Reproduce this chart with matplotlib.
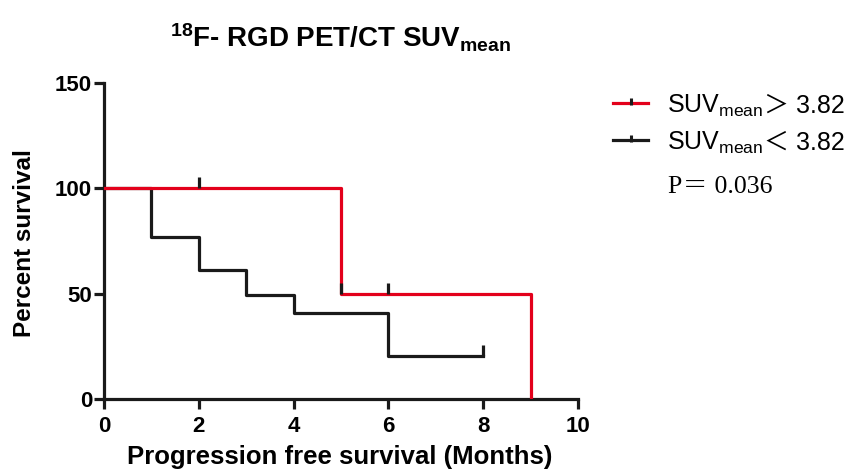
import matplotlib
matplotlib.use("Agg")
import matplotlib.pyplot as plt
from matplotlib.path import Path
from matplotlib.lines import Line2D

plt.rcParams['font.family'] = ['Liberation Sans', 'Noto Sans CJK SC', 'DejaVu Sans']
plt.rcParams['mathtext.fontset'] = 'custom'
plt.rcParams['mathtext.rm'] = 'Liberation Sans'
plt.rcParams['mathtext.it'] = 'Liberation Sans'
plt.rcParams['mathtext.bf'] = 'Liberation Sans:bold'
plt.rcParams['mathtext.default'] = 'regular'

# Data
high_times = [0, 5, 9]
high_surv = [100, 50, 0]
high_cens_t = [2, 5, 6]
high_cens_s = [100, 50, 50]

low_times = [0, 1, 2, 3, 4, 6, 8]
low_surv = [100, 77, 61, 49.5, 41, 20.5, 20.5]
low_cens_t = [8]
low_cens_s = [20.5]

xticks = [0, 2, 4, 6, 8, 10]
yticks = [0, 50, 100, 150]
legend_names = ['SUV$_{mean}$', 'SUV$_{mean}$']
legend_suffix = ['＞ 3.82', '＜ 3.82']
p_text = 'P＝ 0.036'

W, H = 860, 473
fig = plt.figure(figsize=(8.6, 4.73), dpi=100)
ax = fig.add_axes([104/W, 1-399/H, (578-104)/W, (399-83)/H])

red = '#e3001b'
dark = '#1a1a1a'
ax.step(high_times, high_surv, where='post', color=red, lw=2.3, zorder=3)
ax.step(low_times, low_surv, where='post', color=dark, lw=2.3, zorder=2)

tick_marker = Path([(0, 0), (0, 1)], [Path.MOVETO, Path.LINETO])
ax.plot(high_cens_t, high_cens_s, ls='none', marker=tick_marker, ms=16,
        mec=dark, mew=2.3, zorder=4)
ax.plot(low_cens_t, low_cens_s, ls='none', marker=tick_marker, ms=16,
        mec=dark, mew=2.3, zorder=4)

ax.set_xlim(0, 10)
ax.set_ylim(0, 150)
ax.set_xticks(xticks)
ax.set_yticks(yticks)
ax.spines['top'].set_visible(False)
ax.spines['right'].set_visible(False)
for s in ['left', 'bottom']:
    ax.spines[s].set_linewidth(2.3)
    ax.spines[s].set_color(dark)
ax.tick_params(axis='both', direction='out', length=7, width=2.3, color=dark,
               labelsize=16)
ax.tick_params(axis='x', pad=5)
ax.tick_params(axis='y', pad=1.5)
for lab in ax.get_xticklabels() + ax.get_yticklabels():
    lab.set_fontweight('bold')

fig.text(340/W, 1-457/H, 'Progression free survival (Months)', fontsize=18.5,
         fontweight='bold', ha='center', va='center')
fig.text(25/W, 1-243/H, 'Percent survival', fontsize=17.5, fontweight='bold',
         ha='center', va='center', rotation=90)
fig.text(341/W, 1-38/H, r'$^{18}$F- RGD PET/CT SUV$_{mean}$', fontsize=20,
         fontweight='bold', ha='center', va='center')

# Legend (manual, so the full-width signs can fall back to a CJK font)
colors = [red, dark]
rows_y = [103, 140]
fig.canvas.draw()
renderer = fig.canvas.get_renderer()
for c, yy, name, suf in zip(colors, rows_y, legend_names, legend_suffix):
    fy = 1 - yy/H
    fig.add_artist(Line2D([613/W, 648/W], [fy, fy], color=c, lw=2.3,
                          transform=fig.transFigure))
    fig.add_artist(Line2D([630.5/W], [fy - 2/H], color=dark, ls='none',
                          marker=tick_marker, ms=10, mew=2.2,
                          transform=fig.transFigure))
    t1 = fig.text(667/W, fy, name, fontsize=18, ha='left', va='center_baseline')
    bb = t1.get_window_extent(renderer)
    fig.text(bb.x1/W + 1/W, fy, suf, fontsize=18, ha='left', va='center_baseline',
             family=['Liberation Sans', 'Noto Sans CJK SC'])

fig.text(668/W, 1-187/H, p_text, fontsize=18.5, va='center', ha='left',
         family=['Liberation Serif', 'Noto Serif CJK SC', 'Noto Sans CJK SC'])

fig.savefig('out.png', dpi=100)
